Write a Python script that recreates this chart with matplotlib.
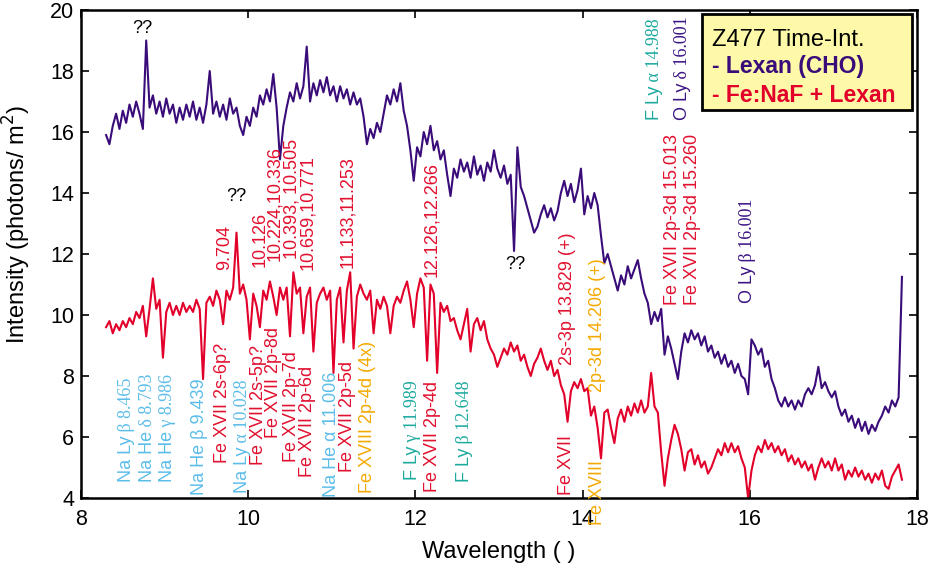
import numpy as np
import matplotlib
matplotlib.use("Agg")
import matplotlib.pyplot as plt
from matplotlib.patches import Rectangle

# ---------------- data ----------------
wl_start, wl_step = 8.30, 0.04   # wavelength grid (Angstrom), 239 samples
lexan = [
    # 8.30 - 9.26
    15.9, 15.6, 16.2, 16.6, 16.1, 16.7, 16.3, 16.9, 16.5, 17.0, 16.6, 16.1, 19.0,
    16.8, 17.2, 16.6, 17.0, 16.5, 17.1, 16.6, 16.9, 16.3, 16.8, 16.4, 16.9,
    # 9.30 - 10.26
    16.5, 17.0, 16.4, 16.8, 16.3, 16.9, 18.0, 16.6, 17.0, 16.5, 16.9, 16.4, 17.1,
    16.6, 16.8, 16.2, 15.9, 16.5, 16.2, 16.8, 16.5, 17.2, 16.9, 17.4, 17.0,
    # 10.30 - 11.26
    17.9, 16.8, 15.1, 16.2, 16.8, 17.3, 17.0, 17.6, 17.1, 17.5, 18.8, 17.0, 17.6,
    17.2, 17.7, 17.3, 17.8, 17.2, 17.5, 17.0, 17.5, 17.1, 17.4, 16.9, 17.3,
    # 11.30 - 12.26
    16.9, 17.1, 16.5, 15.6, 16.1, 15.8, 16.3, 16.0, 16.6, 17.2, 16.9, 17.4, 17.0,
    17.6, 16.7, 16.2, 15.4, 14.4, 15.5, 15.2, 16.0, 15.6, 16.2, 15.4, 15.7,
    # 12.30 - 13.26
    15.1, 15.4, 14.6, 13.9, 14.8, 14.5, 15.1, 14.7, 15.0, 14.5, 15.2, 14.6, 14.9,
    14.4, 15.0, 14.7, 15.4, 14.8, 14.5, 14.9, 14.3, 14.6, 12.1, 15.5, 14.2,
    # 13.30 - 14.26
    13.9, 13.5, 13.1, 12.7, 12.9, 13.3, 13.6, 13.2, 13.5, 13.1, 13.4, 14.0, 14.4,
    13.9, 14.3, 13.7, 14.1, 14.8, 13.3, 13.9, 13.5, 14.0, 13.6, 12.6, 11.7,
    # 14.30 - 15.26
    12.0, 11.6, 11.2, 10.8, 11.3, 11.0, 11.6, 11.2, 11.5, 11.8, 11.2, 10.7, 10.4,
    9.7, 10.1, 9.8, 10.2, 8.7, 9.3, 8.9, 8.4, 7.9, 8.8, 9.4, 9.1,
    # 15.30 - 16.26
    9.5, 9.2, 9.4, 9.0, 9.3, 8.8, 9.0, 8.6, 8.8, 8.4, 8.7, 8.3, 8.5,
    8.1, 8.4, 8.0, 7.9, 7.4, 9.2, 9.0, 8.7, 8.9, 8.3, 8.5, 7.9,
    # 16.30 - 17.26
    7.6, 7.2, 7.0, 7.3, 7.0, 7.2, 6.9, 7.2, 7.0, 7.4, 7.6, 7.4, 7.7,
    8.3, 7.6, 7.8, 7.5, 7.3, 7.5, 7.0, 6.7, 6.9, 6.5, 6.7, 6.3,
    # 17.30 - 17.82
    6.6, 6.2, 6.5, 6.1, 6.4, 6.2, 6.5, 6.7, 7.0, 6.8, 7.2, 7.0, 7.3, 11.25,
]
fe_naf = [
    # 8.30 - 9.26
    9.6, 9.8, 9.4, 9.7, 9.5, 9.8, 9.6, 9.9, 9.7, 10.1, 9.9, 10.3, 9.3,
    10.2, 11.2, 10.2, 10.5, 8.6, 10.1, 10.4, 10.0, 10.3, 10.0, 10.4, 10.1,
    # 9.30 - 10.26
    10.3, 10.1, 10.5, 10.2, 7.9, 10.4, 10.6, 10.3, 10.8, 10.5, 9.7, 10.8, 10.5,
    10.9, 12.7, 10.7, 11.0, 10.5, 9.2, 10.7, 10.3, 9.6, 10.8, 10.5, 11.1,
    # 10.30 - 11.26
    10.6, 10.0, 10.9, 10.5, 10.9, 9.3, 11.4, 10.7, 10.9, 9.4, 10.6, 10.9, 8.8,
    10.4, 10.7, 10.9, 10.5, 10.8, 8.1, 10.5, 10.9, 9.1, 10.8, 11.4, 8.9,
    # 11.30 - 12.26
    10.6, 11.0, 10.7, 10.5, 10.8, 9.4, 10.5, 10.2, 10.6, 10.3, 9.4, 10.3, 10.6,
    10.4, 10.8, 11.1, 10.5, 9.6, 10.7, 11.2, 10.9, 8.5, 11.0, 10.7, 8.1,
    # 12.30 - 13.26
    10.4, 10.1, 10.3, 9.8, 9.9, 9.5, 9.2, 9.7, 10.2, 8.8, 9.7, 9.9, 9.5,
    9.8, 9.2, 8.9, 8.7, 8.3, 8.6, 8.9, 8.7, 9.1, 8.8, 9.0, 8.5,
    # 13.30 - 14.26
    8.7, 8.3, 8.0, 8.4, 8.6, 8.9, 8.5, 8.2, 8.5, 8.0, 8.2, 7.7, 7.4,
    6.5, 7.5, 7.8, 7.6, 7.9, 7.5, 7.6, 6.7, 7.0, 6.3, 5.3, 6.8,
    # 14.30 - 15.26
    6.9, 6.3, 5.8, 6.6, 6.9, 6.5, 7.0, 6.7, 7.1, 6.8, 7.2, 6.8, 7.0,
    8.1, 7.0, 6.8, 5.5, 4.4, 5.3, 5.9, 6.4, 6.1, 5.6, 4.9, 5.5,
    # 15.30 - 16.26
    5.6, 5.1, 5.4, 5.0, 5.2, 4.8, 5.0, 5.3, 5.6, 5.4, 5.8, 5.5, 5.8,
    5.5, 5.7, 5.3, 5.0, 4.0, 4.9, 5.4, 5.7, 5.5, 5.9, 5.6, 5.8,
    # 16.30 - 17.26
    5.5, 5.7, 5.4, 5.6, 5.2, 5.4, 5.1, 5.3, 5.0, 5.2, 4.9, 5.1, 4.6,
    5.0, 5.3, 5.0, 5.2, 4.9, 5.3, 4.9, 5.1, 4.6, 4.9, 4.7, 5.0,
    # 17.30 - 17.82
    4.7, 4.9, 4.6, 4.8, 4.5, 4.8, 4.6, 4.9, 4.4, 4.3, 4.7, 4.9, 5.1, 4.6,
]
wavelength = wl_start + wl_step * np.arange(len(lexan))

x_ticks = [8, 10, 12, 14, 16, 18]
y_ticks = [4, 6, 8, 10, 12, 14, 16, 18, 20]

# line identifications: (x, y of text start, [(text, font)], colour key)
SANS, SERIF = "sans", "serif"
line_ids = [
    (8.55, 4.52, [("Na Ly", SANS), (" \u03b2 8.465", SERIF)], "na"),
    (8.79, 4.52, [("Na He", SANS), (" \u03b4 8.793", SERIF)], "na"),
    (9.03, 4.52, [("Na He", SANS), (" \u03b3 8.986", SERIF)], "na"),
    (9.42, 4.10, [("Na He \u03b2 9.439", SANS)], "na"),
    (9.69, 5.15, [("Fe XVII 2s-6p?", SANS)], "fe17"),
    (9.93, 4.16, [("Na Ly", SANS), (" \u03b1 10.028", SERIF)], "na"),
    (10.12, 5.08, [("Fe XVII 2s-5p?", SANS)], "fe17"),
    (10.30, 5.97, [("Fe XVII 2p-8d", SANS)], "fe17"),
    (10.52, 5.18, [("Fe XVII 2p-7d", SANS)], "fe17"),
    (10.71, 4.69, [("Fe XVII 2p-6d", SANS)], "fe17"),
    (11.00, 4.03, [("Na He \u03b1 11.006", SANS)], "na"),
    (11.19, 4.85, [("Fe XVII 2p-5d", SANS)], "fe17"),
    (11.43, 4.16, [("Fe XVIII 2p-4d (4x)", SANS)], "fe18"),
    (11.96, 4.59, [("F Ly", SANS), (" \u03b3 11.989", SERIF)], "f"),
    (12.20, 4.20, [("Fe XVII 2p-4d", SANS)], "fe17"),
    (12.59, 4.52, [("F Ly", SANS), (" \u03b2 12.648", SERIF)], "f"),
    (13.81, 4.10, [("Fe XVII", SANS)], "fe17"),
    (14.18, 3.11, [("Fe XVIII", SANS)], "fe18"),
    (13.82, 8.36, [("2s-3p 13.829 (+)", SANS)], "fe17"),
    (14.18, 7.48, [("2p-3d 14.206 (+)", SANS)], "fe18"),
    (15.07, 10.33, [("Fe XVII 2p-3d 15.013", SANS)], "fe17"),
    (15.32, 10.33, [("Fe XVII 2p-3d 15.260", SANS)], "fe17"),
    (15.97, 10.39, [("O Ly", SANS), (" \u03b2 16.001", SERIF)], "o"),
    (14.86, 16.39, [("F Ly", SANS), (" \u03b1 14.988", SERIF)], "f"),
    (15.19, 16.39, [("O Ly", SANS), (" \u03b4 16.001", SERIF)], "o"),
    (9.72, 11.48, [("9.704", SANS)], "fe17"),
    (10.14, 11.57, [("10.126", SANS)], "fe17"),
    (10.32, 11.77, [("10.224,10.336", SANS)], "fe17"),
    (10.52, 11.84, [("10.393, 10.505", SANS)], "fe17"),
    (10.71, 11.48, [("10.659,10.771", SANS)], "fe17"),
    (11.19, 11.54, [("11.133,11.253", SANS)], "fe17"),
    (12.20, 11.25, [("12.126,12.266", SANS)], "fe17"),
]
unknown_marks = [(8.73, 19.4), (9.86, 13.87), (13.19, 11.64)]

# ---------------- style ----------------
C_LEXAN = "#3a0c7a"
C_FE = "#e2002b"
label_colors = {"na": "#5cbde9", "f": "#1ba99e", "fe17": "#e2102f",
                "fe18": "#f4a900", "o": "#3c1585"}
fonts = {SANS: "Liberation Sans", SERIF: "Liberation Serif"}
plt.rcParams["font.family"] = ["Liberation Sans", "DejaVu Sans"]

fig = plt.figure(figsize=(9.3, 5.69), dpi=100)
ax = fig.add_axes([81 / 930, 71 / 569, 836 / 930, 488 / 569])

ax.plot(wavelength, lexan, color=C_LEXAN, lw=1.5)
ax.plot(wavelength, fe_naf, color=C_FE, lw=1.5)

ax.set_xlim(8, 18)
ax.set_ylim(4, 20)
ax.set_xticks(x_ticks)
ax.set_yticks(y_ticks)
ax.tick_params(direction="in", top=True, right=True, length=6, width=1.2,
               labelsize=15.5)
ax.tick_params(axis="x", pad=8)
ax.tick_params(axis="y", pad=5)
for s in ax.spines.values():
    s.set_linewidth(1.8)

ax.set_xlabel("Wavelength ( )", fontsize=17)
ax.xaxis.set_label_coords(0.5, -0.088)
ax.set_ylabel("Intensity (photons/ m$^2$)", fontsize=17)
ax.yaxis.set_label_coords(-0.058, 0.56)

for x, y, parts, ck in line_ids:
    col = label_colors[ck]
    prev = None
    for txt, fk in parts:
        if prev is None:
            prev = ax.text(x, y, txt, rotation=90, ha="center", va="bottom",
                           color=col, fontsize=13, family=fonts[fk],
                           clip_on=False)
        else:
            prev = ax.annotate(txt, xy=(0.5, 1.0), xycoords=prev,
                               rotation=90, ha="center", va="bottom",
                               color=col, fontsize=13, family=fonts[fk],
                               annotation_clip=False)

for x, y in unknown_marks:
    ax.text(x, y, "??", ha="center", va="center", fontsize=13, color="black")

# legend box
fig.patches.append(Rectangle((702 / 930, 1 - 110 / 569), 210 / 930, 96 / 569,
                             transform=fig.transFigure, facecolor="#fdf9a8",
                             edgecolor="black", lw=2, zorder=5))
fig.text(712 / 930, 1 - 40 / 569, "Z477 Time-Int.", fontsize=17,
         va="center", ha="left", color="black", zorder=6)
fig.text(712 / 930, 1 - 67 / 569, "- Lexan (CHO)", fontsize=16.5,
         fontweight="bold", va="center", ha="left", color=C_LEXAN, zorder=6)
fig.text(712 / 930, 1 - 95 / 569, "- Fe:NaF + Lexan", fontsize=16.5,
         fontweight="bold", va="center", ha="left", color=C_FE, zorder=6)

fig.savefig("out.png", dpi=100)
